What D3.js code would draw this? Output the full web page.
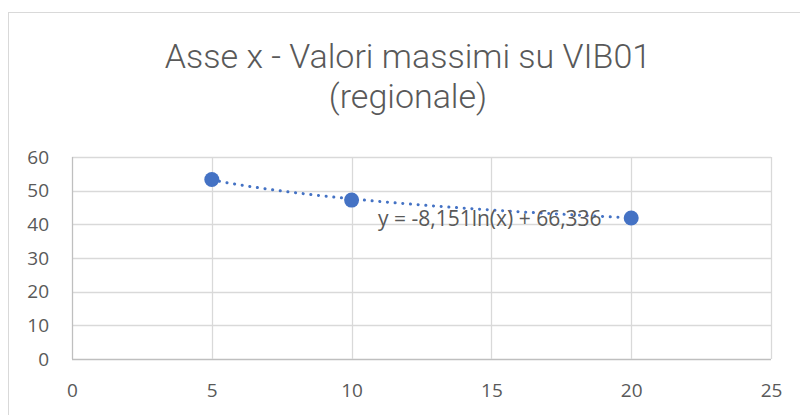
<!DOCTYPE html>
<meta charset="utf-8">
<script src="https://d3js.org/d3.v7.min.js"></script>
<style>
  body { margin: 0; background: #fff; }
  text { font-family: "Open Sans", sans-serif; fill: #595959; }
</style>
<div id="chart"></div>
<script>

// data
var xValues = [5, 10, 20];
var yValues = [53.3, 47.2, 41.9];
var xTicks = [0, 5, 10, 15, 20, 25];
var yTicks = [0, 10, 20, 30, 40, 50, 60];
var titleLines = ["Asse x - Valori massimi su VIB01", "(regionale)"];
// logarithmic trendline y = a*ln(x) + b, as written on the chart
var trendA = -8.151;
var trendB = 66.336;

var W = 800, H = 415;
var margin = {top: 157, right: 29, bottom: 56, left: 72};
var width = W - margin.left - margin.right,
    height = H - margin.top - margin.bottom;

var svg = d3.select("#chart").append("svg")
    .attr("width", W)
    .attr("height", H);

// chart frame
svg.append("rect")
    .attr("x", 8.5).attr("y", 12.5)
    .attr("width", 820).attr("height", 420)
    .attr("fill", "#fff")
    .attr("stroke", "#d9d9d9");

// title, one text with a tspan per line
svg.append("text")
    .attr("text-anchor", "middle")
    .style("font-family", "Roboto, sans-serif")
    .style("font-size", "34px")
    .style("font-weight", 300)
    .selectAll("tspan")
    .data(titleLines)
    .enter().append("tspan")
    .attr("x", 408)
    .attr("y", function(d, i) { return 67.5 + i * 40; })
    .text(function(d) { return d; });

var g = svg.append("g")
    .attr("transform", "translate(" + margin.left + "," + margin.top + ")");

var x = d3.scaleLinear().domain([0, 25]).range([0, width]);
var y = d3.scaleLinear().domain([0, 60]).range([height, 0]);

// gridlines
g.selectAll(".hgrid")
    .data(yTicks)
    .enter().append("line")
    .attr("x1", 0).attr("x2", width)
    .attr("y1", function(d) { return Math.round(y(d)) + 0.5; })
    .attr("y2", function(d) { return Math.round(y(d)) + 0.5; })
    .attr("stroke", function(d) { return d === 0 ? "#bfbfbf" : "#d9d9d9"; })
    .attr("stroke-width", 1.3);

g.selectAll(".vgrid")
    .data(xTicks)
    .enter().append("line")
    .attr("y1", 0).attr("y2", height)
    .attr("x1", function(d) { return Math.round(x(d)) + 0.5; })
    .attr("x2", function(d) { return Math.round(x(d)) + 0.5; })
    .attr("stroke", function(d) { return d === 0 ? "#bfbfbf" : "#d9d9d9"; })
    .attr("stroke-width", 1.3);

// axes (labels only)
var yAxis = g.append("g")
    .call(d3.axisLeft(y).tickValues(yTicks).tickSize(0).tickPadding(23));
yAxis.select(".domain").remove();
yAxis.selectAll("text")
    .style("font-size", "19px")
    .style("font-family", "'Open Sans', sans-serif")
    .attr("fill", "#595959");

var xAxis = g.append("g")
    .attr("transform", "translate(0," + height + ")")
    .call(d3.axisBottom(x).tickValues(xTicks).tickSize(0).tickPadding(25));
xAxis.select(".domain").remove();
xAxis.selectAll("text")
    .style("font-size", "19px")
    .style("font-family", "'Open Sans', sans-serif")
    .attr("fill", "#595959");

// trendline
var trendX = d3.range(xValues[0], xValues[xValues.length - 1] + 0.01, 0.25);
var line = d3.line()
    .x(function(d) { return x(d); })
    .y(function(d) { return y(trendA * Math.log(d) + trendB); });
g.append("path")
    .datum(trendX)
    .attr("d", line)
    .attr("fill", "none")
    .attr("stroke", "#4472c4")
    .attr("stroke-width", 3)
    .attr("stroke-linecap", "round")
    .attr("stroke-dasharray", "0.1 7.6");

// points
g.selectAll(".pt")
    .data(xValues)
    .enter().append("circle")
    .attr("cx", function(d) { return x(d); })
    .attr("cy", function(d, i) { return y(yValues[i]); })
    .attr("r", 7.5)
    .attr("fill", "#4472c4");

// trendline label
var fmt = function(v) { return v.toFixed(3).replace(".", ","); };
g.append("text")
    .attr("x", 378 - margin.left)
    .attr("y", 226 - margin.top)
    .style("font-size", "21px")
    .text("y = " + fmt(trendA) + "ln(x) + " + fmt(trendB));

</script>
